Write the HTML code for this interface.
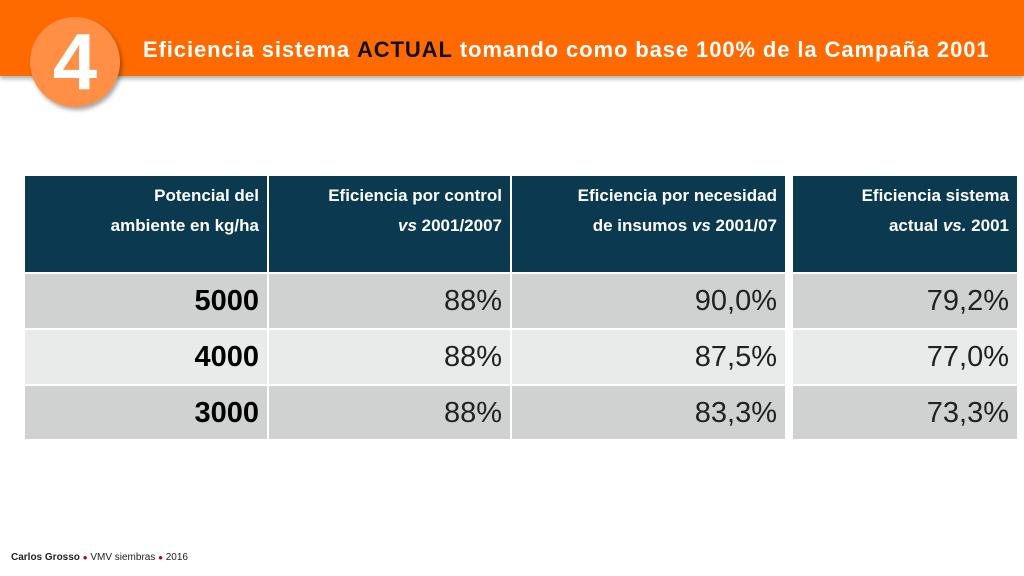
<!DOCTYPE html>
<html><head><meta charset="utf-8"><style>
body{margin:0;width:1024px;height:576px;background:#fff;position:relative;overflow:hidden;font-family:"Liberation Sans",sans-serif}
.band{position:absolute;left:0;top:0;width:1024px;height:76px;background:#ff6a00;box-shadow:0 3px 4px rgba(0,0,0,.3)}
.title{position:absolute;left:143px;top:37px;color:#fff;font-weight:bold;font-size:22px;letter-spacing:0.9px;white-space:nowrap}
.title b{color:#111}
.circ{position:absolute;left:30px;top:17px;width:90px;height:90px;border-radius:50%;background:#ff8f45;box-shadow:2px 3px 4px rgba(0,0,0,.35);color:#fff;font-weight:bold;font-size:80px;text-align:center;line-height:90px}
.c{position:absolute;box-sizing:border-box;text-align:right;padding-right:8px}
.h{background:#0b3a50;color:#fff;font-weight:bold;font-size:17px;line-height:30px;padding-top:5px;top:176px;height:96px}
.r{font-size:29px;line-height:54px;height:54px;color:#222}
.d{background:#d0d2d1}.l{background:#e9eaea}
.k{font-weight:bold;color:#000}
.foot{position:absolute;left:11px;top:552px;font-size:10px;color:#222}
.dot{color:#c00000;font-size:8px}
</style></head><body>
<div class="band"></div>
<div class="title">Eficiencia sistema <b>ACTUAL</b> tomando como base 100% de la Campaña 2001</div>
<div class="circ">4</div>

<div class="c h" style="left:25px;width:242px">Potencial del<br>ambiente en kg/ha</div>
<div class="c h" style="left:269px;width:241px">Eficiencia por control<br><i>vs</i> 2001/2007</div>
<div class="c h" style="left:512px;width:273px">Eficiencia por necesidad<br>de insumos <i>vs</i> 2001/07</div>
<div class="c h" style="left:793px;width:224px">Eficiencia sistema<br>actual <i>vs.</i> 2001</div>

<div class="c r d k" style="left:25px;top:274px;width:242px">5000</div>
<div class="c r d" style="left:269px;top:274px;width:241px">88%</div>
<div class="c r d" style="left:512px;top:274px;width:273px">90,0%</div>
<div class="c r d" style="left:793px;top:274px;width:224px">79,2%</div>

<div class="c r l k" style="left:25px;top:330px;width:242px">4000</div>
<div class="c r l" style="left:269px;top:330px;width:241px">88%</div>
<div class="c r l" style="left:512px;top:330px;width:273px">87,5%</div>
<div class="c r l" style="left:793px;top:330px;width:224px">77,0%</div>

<div class="c r d k" style="left:25px;top:386px;width:242px;height:53px">3000</div>
<div class="c r d" style="left:269px;top:386px;width:241px;height:53px">88%</div>
<div class="c r d" style="left:512px;top:386px;width:273px;height:53px">83,3%</div>
<div class="c r d" style="left:793px;top:386px;width:224px;height:53px">73,3%</div>

<div class="foot"><b>Carlos Grosso</b> <span class="dot">●</span> VMV siembras <span class="dot">●</span> 2016</div>
</body></html>
